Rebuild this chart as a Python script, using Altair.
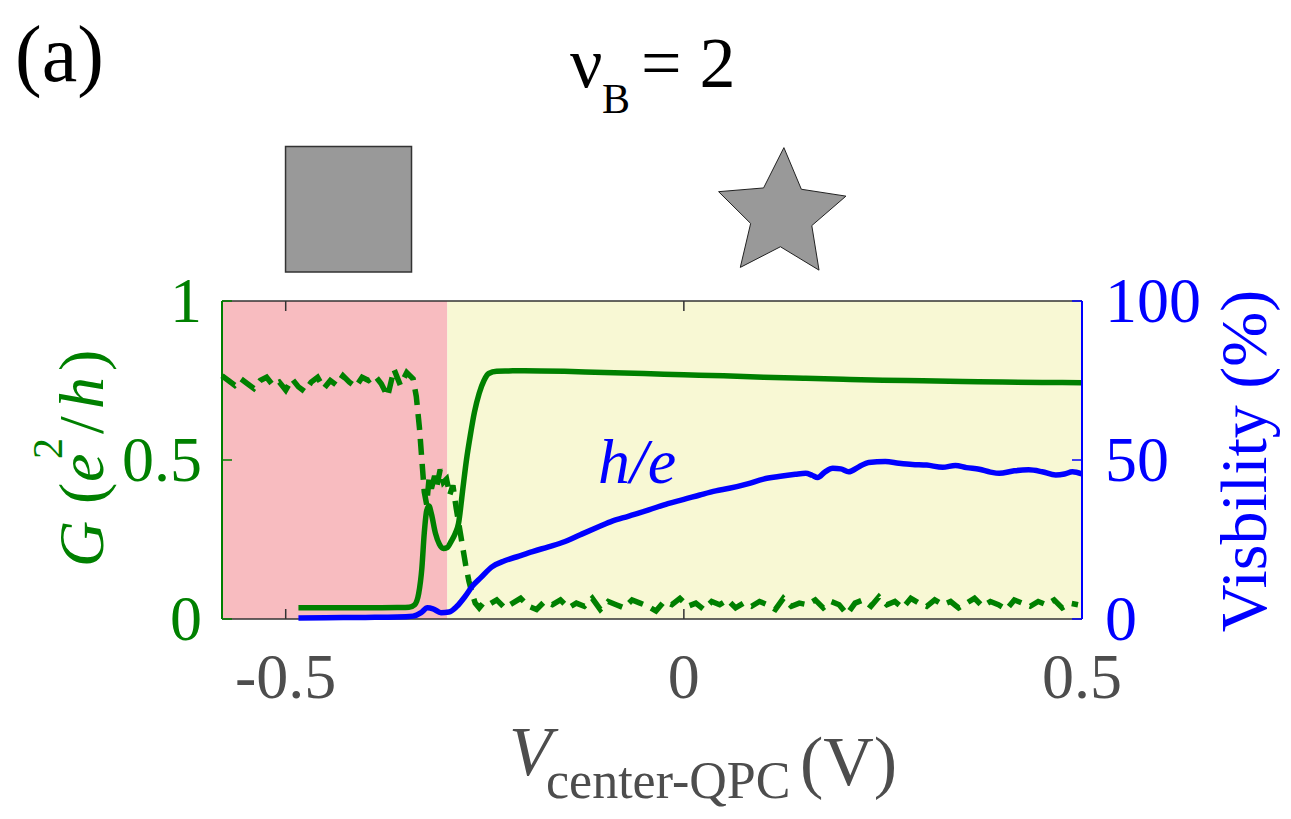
import math
import altair as alt
import pandas as pd

# ---------------- data ----------------
g_solid_x = [-0.484, -0.45, -0.40, -0.36, -0.345, -0.338, -0.333, -0.329, -0.326, -0.323,
             -0.320, -0.317, -0.312, -0.307, -0.302, -0.297, -0.292, -0.287, -0.283, -0.278,
             -0.273, -0.268, -0.263, -0.257, -0.251, -0.245, -0.235, -0.22, -0.2, -0.15,
             -0.1, -0.05, 0.0, 0.05, 0.1, 0.15, 0.2, 0.25, 0.3, 0.35, 0.4, 0.45, 0.5]
g_solid_y = [0.035, 0.035, 0.035, 0.036, 0.037, 0.045, 0.08, 0.16, 0.27, 0.34,
             0.355, 0.33, 0.27, 0.235, 0.222, 0.225, 0.245, 0.27, 0.30, 0.40,
             0.50, 0.58, 0.65, 0.71, 0.75, 0.772, 0.779, 0.78, 0.781, 0.779,
             0.775, 0.772, 0.768, 0.765, 0.76, 0.757, 0.754, 0.751, 0.749, 0.747, 0.745, 0.744, 0.743]

g_dash_pre_x = [-0.58, -0.572, -0.564, -0.556, -0.548, -0.54, -0.532, -0.524, -0.516, -0.508,
                -0.5, -0.492, -0.484, -0.476, -0.468, -0.46, -0.452, -0.444, -0.436, -0.428,
                -0.42, -0.412, -0.404, -0.396, -0.388, -0.38, -0.372, -0.364, -0.356, -0.348, -0.34]
g_dash_pre_y = [0.765, 0.75, 0.735, 0.755, 0.74, 0.725, 0.75, 0.76, 0.735, 0.745,
                0.72, 0.755, 0.73, 0.715, 0.745, 0.76, 0.725, 0.75, 0.735, 0.765,
                0.745, 0.73, 0.76, 0.75, 0.765, 0.74, 0.70, 0.785, 0.735, 0.775, 0.755]
g_dash_drop_x = [-0.336, -0.332, -0.329, -0.326, -0.323, -0.32, -0.317, -0.313, -0.31, -0.306,
                 -0.302, -0.298, -0.294, -0.29, -0.286, -0.282, -0.278, -0.274, -0.27, -0.266,
                 -0.262, -0.257, -0.252]
g_dash_drop_y = [0.70, 0.60, 0.50, 0.40, 0.36, 0.44, 0.41, 0.45, 0.42, 0.47,
                 0.43, 0.44, 0.39, 0.42, 0.35, 0.29, 0.23, 0.17, 0.12, 0.08,
                 0.05, 0.035, 0.05]
g_dash_post_start = -0.245
g_dash_post_step = 0.01
g_dash_post_y = [0.045, 0.06, 0.035, 0.05, 0.065, 0.04, 0.03, 0.055, 0.045, 0.06,
                 0.035, 0.05, 0.04, 0.065, 0.03, 0.055, 0.045, 0.035, 0.06, 0.05,
                 0.04, 0.025, 0.055, 0.045, 0.065, 0.04, 0.05, 0.03, 0.055, 0.045,
                 0.06, 0.035, 0.05, 0.04, 0.055, 0.045, 0.03, 0.065, 0.04, 0.05,
                 0.045, 0.06, 0.035, 0.055, 0.045, 0.015, 0.05, 0.06, 0.04, 0.07,
                 0.045, 0.055, 0.035, 0.065, 0.05, 0.04, 0.06, 0.045, 0.055, 0.035,
                 0.05, 0.065, 0.04, 0.055, 0.045, 0.03, 0.06, 0.05, 0.04, 0.055,
                 0.045, 0.06, 0.035, 0.05, 0.045]

vis_x = [-0.484, -0.45, -0.40, -0.36, -0.34, -0.33, -0.322, -0.315, -0.305, -0.295,
         -0.285, -0.275, -0.265, -0.255, -0.241, -0.225, -0.207, -0.19, -0.17, -0.15,
         -0.13, -0.107, -0.09, -0.07, -0.044, -0.02, 0.0, 0.02, 0.04, 0.057,
         0.08, 0.1, 0.119, 0.14, 0.153, 0.161, 0.168, 0.177, 0.187, 0.197,
         0.207, 0.22, 0.232, 0.253, 0.27, 0.287, 0.305, 0.325, 0.341, 0.355,
         0.371, 0.385, 0.396, 0.415, 0.433, 0.45, 0.467, 0.478, 0.488, 0.5]
vis_y = [0.3, 0.4, 0.5, 0.6, 0.9, 2.0, 3.5, 3.2, 2.0, 2.2,
         4.0, 7.0, 10.5, 13.0, 16.4, 18.3, 19.8, 21.2, 22.7, 24.3,
         26.5, 29.0, 30.8, 32.3, 34.3, 36.3, 37.6, 39.0, 40.3, 41.1,
         42.5, 44.0, 44.8, 45.5, 45.8, 45.2, 44.5, 46.2, 47.4, 47.2,
         46.3, 47.9, 49.2, 49.5, 49.0, 48.6, 48.4, 47.7, 48.3, 47.6,
         47.1, 46.2, 45.8, 46.6, 46.9, 46.3, 45.3, 45.6, 46.3, 45.6]

region_start = [-0.58, -0.297]
region_end = [-0.297, 0.5]
region_color = ["#F8BCC0", "#F8F8D4"]

x_ticks = [-0.5, 0, 0.5]
x_tick_labels = ["-0.5", "0", "0.5"]
g_ticks = [0, 0.5, 1]
g_tick_labels = ["0", "0.5", "1"]
v_ticks = [0, 50, 100]
v_tick_labels = ["0", "50", "100"]

square_x = [-0.5002, -0.342]
square_y = [1.091, 1.486]
star_pos = [0.1227, 1.2717]
he_pos = [-0.1078, 0.428]

# ---------------- styling ----------------
FONT = "Liberation Serif"
GREEN = "#008000"
BLUE = "#0000FF"
GRAY = "#4D4D4D"
DARK = "#333333"
W, H = 860, 318
X0, X1 = -0.58, 0.5
TICK_X = 10 / W * (X1 - X0)
TICK_G = 10 / H

xs = alt.Scale(domain=[X0, X1], nice=False, zero=False)
gs = alt.Scale(domain=[0, 1], nice=False, zero=False)
vs = alt.Scale(domain=[0, 100], nice=False, zero=False)


def X(f):
    return alt.X(f, scale=xs, axis=None)


def G(f):
    return alt.Y(f, scale=gs, axis=None)


def V(f):
    return alt.Y(f, scale=vs, axis=None)


g_dash_post_x = [round(g_dash_post_start + g_dash_post_step * i, 3) for i in range(len(g_dash_post_y))]
g_dash_x = g_dash_pre_x + g_dash_drop_x + g_dash_post_x
g_dash_y = g_dash_pre_y + g_dash_drop_y + g_dash_post_y

# background regions
regions = pd.DataFrame({"x0": region_start, "x1": region_end, "c": region_color,
                        "y0": [0, 0], "y1": [1, 1]})
bg = alt.Chart(regions).mark_rect().encode(
    x=X("x0:Q"), x2="x1:Q", y=G("y0:Q"), y2="y1:Q", color=alt.Color("c:N", scale=None))

solid = alt.Chart(pd.DataFrame({"x": g_solid_x, "g": g_solid_y})).mark_line(
    color=GREEN, strokeWidth=5.5, interpolate="monotone").encode(x=X("x:Q"), y=G("g:Q"))

dashed = alt.Chart(pd.DataFrame({"x": g_dash_x, "g": g_dash_y})).mark_line(
    color=GREEN, strokeWidth=5.5, strokeDash=[16, 9]).encode(x=X("x:Q"), y=G("g:Q"))

# frame lines (axis domains)
bottom_domain = alt.Chart(pd.DataFrame({"a": [X0], "b": [X1], "g": [0]})).mark_rule(
    color=DARK, strokeWidth=1.5).encode(x=X("a:Q"), x2="b:Q", y=G("g:Q"))
top_border = alt.Chart(pd.DataFrame({"a": [X0], "b": [X1], "g": [1]})).mark_rule(
    color=DARK, strokeWidth=1.5).encode(x=X("a:Q"), x2="b:Q", y=G("g:Q"))
left_domain = alt.Chart(pd.DataFrame({"x": [X0], "a": [0], "b": [1]})).mark_rule(
    color=GREEN, strokeWidth=2).encode(x=X("x:Q"), y=G("a:Q"), y2="b:Q")

# inward ticks
bt = pd.DataFrame({"x": x_ticks, "a": [0] * 3, "b": [TICK_G] * 3})
tt = pd.DataFrame({"x": x_ticks, "a": [1 - TICK_G] * 3, "b": [1] * 3})
bottom_ticks = alt.Chart(bt).mark_rule(color=DARK, strokeWidth=1.5).encode(
    x=X("x:Q"), y=G("a:Q"), y2="b:Q")
top_ticks = alt.Chart(tt).mark_rule(color=DARK, strokeWidth=1.5).encode(
    x=X("x:Q"), y=G("a:Q"), y2="b:Q")
lt = pd.DataFrame({"g": g_ticks, "a": [X0] * 3, "b": [X0 + TICK_X] * 3})
left_ticks = alt.Chart(lt).mark_rule(color=GREEN, strokeWidth=1.5).encode(
    x=X("a:Q"), x2="b:Q", y=G("g:Q"))

# tick labels
x_labels = alt.Chart(pd.DataFrame({"x": x_ticks, "t": x_tick_labels})).mark_text(
    font=FONT, fontSize=64, color=GRAY, align="center", baseline="alphabetic").encode(
    x=X("x:Q"), y=alt.value(H + 79), text="t:N")
g_labels = alt.Chart(pd.DataFrame({"g": g_ticks, "t": g_tick_labels})).mark_text(
    font=FONT, fontSize=64, color=GREEN, align="right", baseline="middle", dy=2).encode(
    x=alt.value(-20), y=G("g:Q"), text="t:N")

# square and star symbols above the plot
square = alt.Chart(pd.DataFrame({"a": [square_x[0]], "b": [square_x[1]],
                                 "c": [square_y[0]], "d": [square_y[1]]})).mark_rect(
    fill="#999999", stroke=DARK, strokeWidth=1.5).encode(
    x=X("a:Q"), x2="b:Q", y=G("c:Q"), y2="d:Q")

pts = []
for k in range(10):
    r = 1.0 if k % 2 == 0 else 0.48
    ang = math.radians(-88 + 36 * k)
    pts.append(f"{r * math.cos(ang):.4f},{r * math.sin(ang):.4f}")
STAR = "M" + " L".join(pts) + " Z"
star = alt.Chart(pd.DataFrame({"x": [star_pos[0]], "g": [star_pos[1]]})).mark_point(
    shape=STAR, filled=True, fill="#999999", stroke="#222222", strokeWidth=1,
    opacity=1, size=134 * 134).encode(x=X("x:Q"), y=G("g:Q"))

he = alt.Chart(pd.DataFrame({"x": [he_pos[0]], "g": [he_pos[1]], "t": ["h/e"]})).mark_text(
    font=FONT, fontSize=64, fontStyle="italic", color=BLUE, align="left",
    baseline="alphabetic").encode(x=X("x:Q"), y=G("g:Q"), text="t:N")


def label(text, x, y, size, color="black", style="normal", angle=0, align="left"):
    kw = dict(font=FONT, fontSize=size, color=color, fontStyle=style, align=align,
              baseline="alphabetic")
    if angle:
        kw["angle"] = angle
    return alt.Chart(pd.DataFrame({"t": [text]})).mark_text(**kw).encode(
        x=alt.value(x), y=alt.value(y), text="t:N")


texts = [
    label("(a)", -207, -220, 80),
    label("ν", 348, -214, 72),
    label("B", 380, -188, 42),
    label("= 2", 419, -214, 72),
    # bottom axis title
    label("V", 287, 474, 70, GRAY, "italic"),
    label("center-QPC", 324, 497, 52, GRAY),
    label("(V)", 578, 484, 70, GRAY),
    # left axis title (rotated)
    label("G", -119, 266, 64, GREEN, "italic", 270),
    label("(", -119, 203, 64, GREEN, "normal", 270),
    label("e", -119, 181, 64, GREEN, "italic", 270),
    label("2", -160, 158, 42, GREEN, "normal", 270),
    label("/", -119, 133, 64, GREEN, "normal", 270),
    label("h", -119, 108, 64, GREEN, "italic", 270),
    label(")", -119, 70, 64, GREEN, "normal", 270),
    # right axis title
    label("Visbility (%)", 1044, 160, 66, BLUE, "normal", 270, "center"),
]

left = alt.layer(bg, dashed, solid, bottom_domain, top_border, left_domain,
                 bottom_ticks, top_ticks, left_ticks, x_labels, g_labels,
                 square, star, he, *texts)

vis_line = alt.Chart(pd.DataFrame({"x": vis_x, "v": vis_y})).mark_line(
    color=BLUE, strokeWidth=5.5, interpolate="monotone").encode(x=X("x:Q"), y=V("v:Q"))
right_domain = alt.Chart(pd.DataFrame({"x": [X1], "a": [0], "b": [100]})).mark_rule(
    color=BLUE, strokeWidth=2).encode(x=X("x:Q"), y=V("a:Q"), y2="b:Q")
rt = pd.DataFrame({"v": v_ticks, "a": [X1 - TICK_X] * 3, "b": [X1] * 3})
right_ticks = alt.Chart(rt).mark_rule(color=BLUE, strokeWidth=1.5).encode(
    x=X("a:Q"), x2="b:Q", y=V("v:Q"))
v_labels = alt.Chart(pd.DataFrame({"v": v_ticks, "t": v_tick_labels})).mark_text(
    font=FONT, fontSize=64, color=BLUE, align="left", baseline="middle", dy=2).encode(
    x=alt.value(W + 23), y=V("v:Q"), text="t:N")
right = alt.layer(vis_line, right_domain, right_ticks, v_labels)

chart = alt.layer(left, right).resolve_scale(y="independent").properties(
    width=W, height=H,
    autosize=alt.AutoSizeParams(type="none"),
    padding={"left": 214, "top": 293, "right": 200, "bottom": 190},
).configure_view(strokeWidth=0)

chart.save("out.html", embed_options={"renderer": "svg", "actions": False})
